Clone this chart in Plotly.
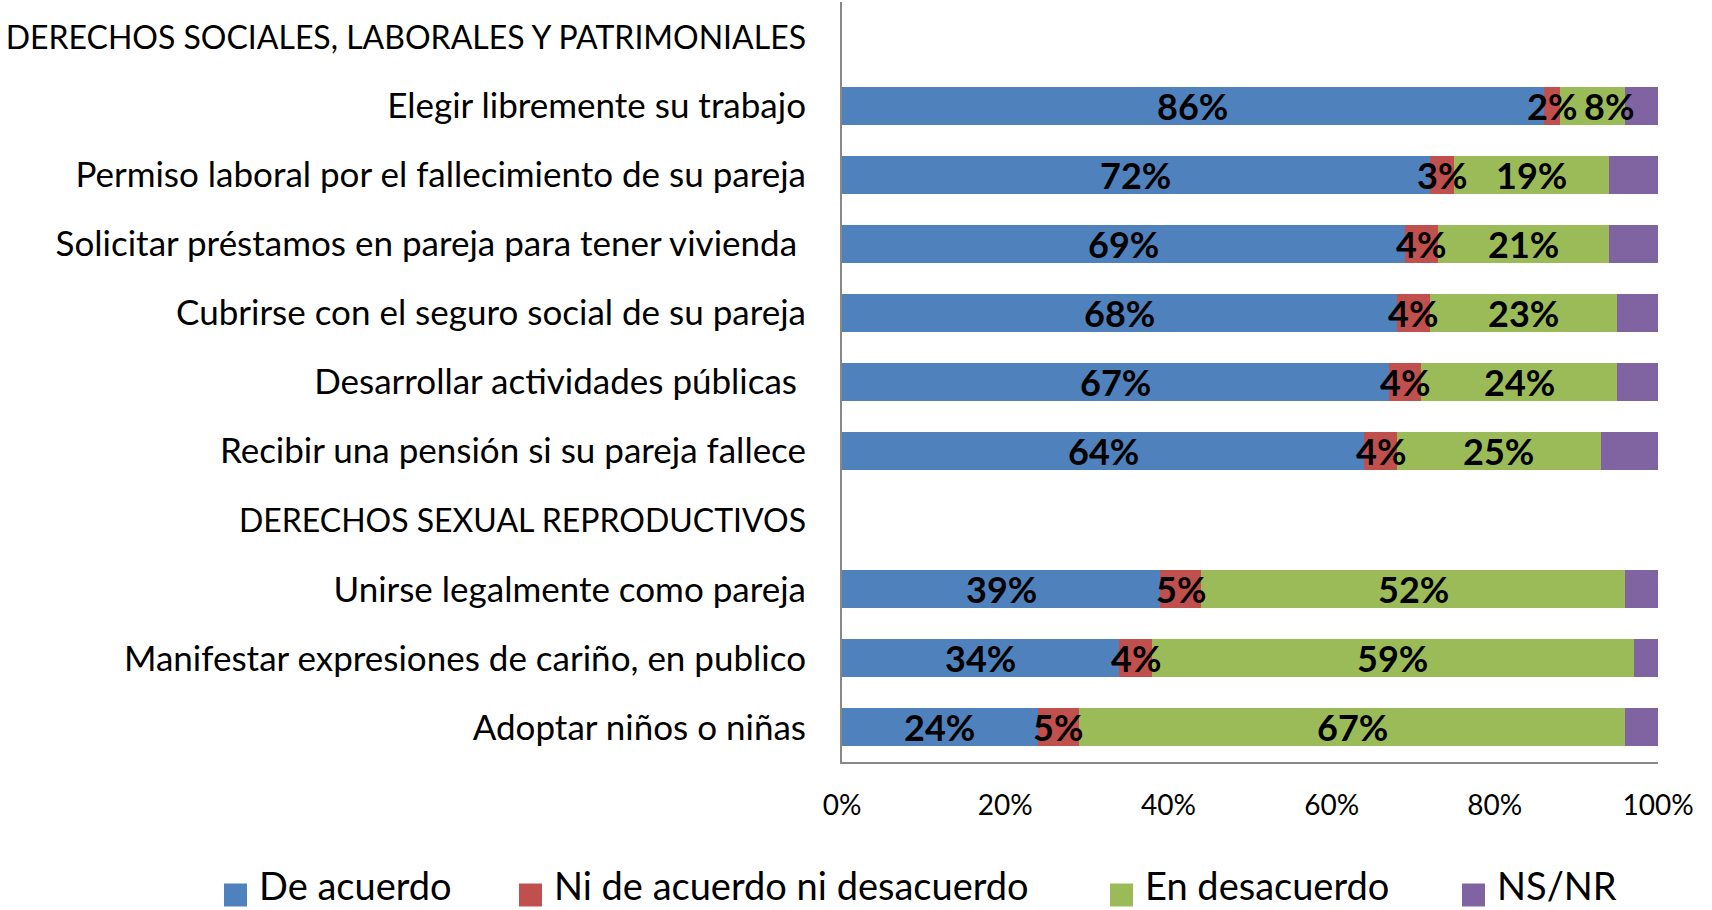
import plotly.graph_objects as go

# Survey items (two section headers carry no bars)
categories = [
    "DERECHOS SOCIALES, LABORALES Y PATRIMONIALES",
    "Elegir libremente su trabajo",
    "Permiso laboral por el fallecimiento de su pareja",
    "Solicitar préstamos en pareja para tener vivienda\u00a0",
    "Cubrirse con el seguro social de su pareja",
    "Desarrollar actividades públicas\u00a0",
    "Recibir una pensión si su pareja fallece",
    "DERECHOS SEXUAL REPRODUCTIVOS",
    "Unirse legalmente como pareja",
    "Manifestar expresiones de cariño, en publico",
    "Adoptar niños o niñas",
]
section_headers = [categories[0], categories[7]]

de_acuerdo = [None, 86, 72, 69, 68, 67, 64, None, 39, 34, 24]
ni_ni = [None, 2, 3, 4, 4, 4, 4, None, 5, 4, 5]
en_desacuerdo = [None, 8, 19, 21, 23, 24, 25, None, 52, 59, 67]
ns_nr = [None, 4, 6, 6, 5, 5, 7, None, 4, 3, 4]

series_names = ["De acuerdo", "Ni de acuerdo ni desacuerdo", "En desacuerdo", "NS/NR"]
series_values = [de_acuerdo, ni_ni, en_desacuerdo, ns_nr]
series_colors = ["#4F81BD", "#C0504D", "#9BBB59", "#8064A2"]
series_labelled = [True, True, True, False]

x_ticks = [0, 20, 40, 60, 80, 100]
x_tick_text = ["0%", "20%", "40%", "60%", "80%", "100%"]

FONT = "Lato, 'Liberation Sans', Arial, sans-serif"
W, H = 1712, 910
M_L, M_R, M_T, M_B = 842, 54, 2, 148

# pixel nudges for crowded value labels: (row, series) -> xshift
label_nudge = {(1, 2): 16}

fig = go.Figure()
for name, vals, color in zip(series_names, series_values, series_colors):
    fig.add_trace(go.Bar(
        name=name,
        y=categories,
        x=vals,
        orientation="h",
        marker=dict(color=color, line=dict(width=0)),
        showlegend=False,
        hoverinfo="skip",
    ))

annotations = []

# Value labels on top of all bars, centred in each segment
for i, cat in enumerate(categories):
    start = 0
    for s, (vals, labelled) in enumerate(zip(series_values, series_labelled)):
        v = vals[i]
        if v is None:
            continue
        if labelled:
            annotations.append(dict(
                xref="x", yref="y",
                x=start + v / 2, y=cat,
                text=f"{v}%", showarrow=False,
                xanchor="center", yanchor="middle",
                xshift=label_nudge.get((i, s), 0), yshift=0,
                font=dict(family=FONT, size=36, color="black", weight="bold"),
            ))
        start += v

# Legend drawn as squares and labels below the axis (pixel positions converted to paper units)
plot_w = W - M_L - M_R
plot_h = H - M_T - M_B


def px_x(px):
    return (px - M_L) / plot_w


def px_y(py):
    return (H - M_B - py) / plot_h


legend_left_px = [224, 519, 1110, 1462]
sq = 23
legend_sq_cy = 895
legend_text_cy = 885
shapes = []
for name, color, lx in zip(series_names, series_colors, legend_left_px):
    shapes.append(dict(
        type="rect", xref="paper", yref="paper",
        x0=px_x(lx), x1=px_x(lx + sq),
        y0=px_y(legend_sq_cy + sq / 2), y1=px_y(legend_sq_cy - sq / 2),
        fillcolor=color, line=dict(width=0),
    ))
    annotations.append(dict(
        xref="paper", yref="paper",
        x=px_x(lx + sq + 10), y=px_y(legend_text_cy),
        xanchor="left", yanchor="middle",
        text=name, showarrow=False,
        font=dict(family=FONT, size=38, color="black"),
    ))

tick_text_y = [
    f'<span style="font-size:32px">{c}</span>' if c in section_headers else c
    for c in categories
]

fig.update_layout(
    width=W, height=H,
    margin=dict(l=M_L, r=M_R, t=M_T, b=M_B),
    barmode="stack",
    bargap=0.45,
    plot_bgcolor="white",
    paper_bgcolor="white",
    font=dict(family=FONT, color="black"),
    shapes=shapes,
    annotations=annotations,
    xaxis=dict(
        range=[0, 100],
        tickvals=x_ticks,
        ticktext=x_tick_text,
        showgrid=False,
        zeroline=False,
        showline=True,
        linecolor="#888888",
        linewidth=2,
        ticks="",
        ticklabelstandoff=17,
        tickfont=dict(family=FONT, size=28, color="black"),
        automargin=False,
        fixedrange=True,
    ),
    yaxis=dict(
        type="category",
        categoryorder="array",
        categoryarray=categories,
        tickvals=categories,
        ticktext=tick_text_y,
        autorange="reversed",
        showgrid=False,
        zeroline=False,
        showline=True,
        linecolor="#888888",
        linewidth=2,
        ticks="",
        ticklabelstandoff=27,
        tickfont=dict(family=FONT, size=35, color="black"),
        automargin=False,
        fixedrange=True,
    ),
)

fig.write_html("out.html", config={"displayModeBar": False})
